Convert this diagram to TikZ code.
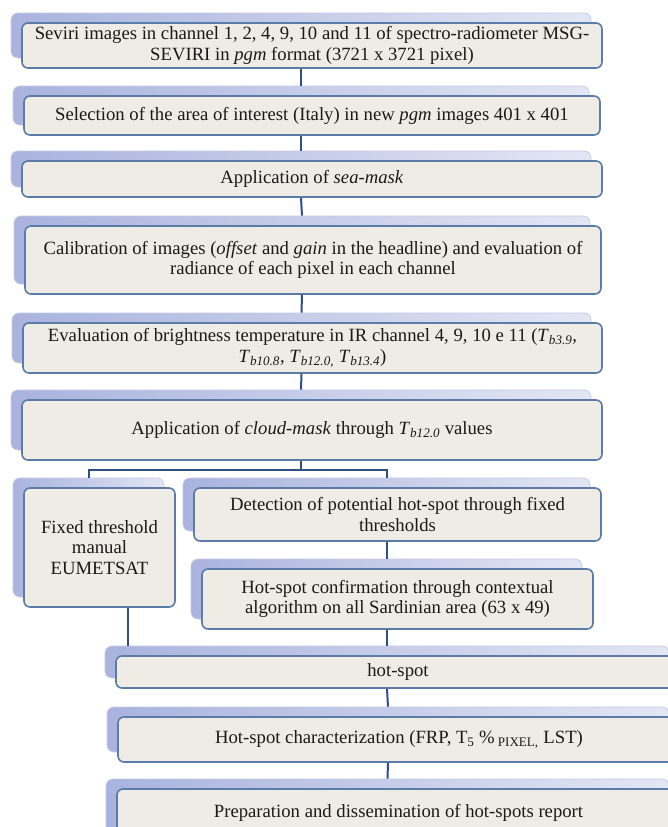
\documentclass[tikz,border=0pt]{standalone}
\usepackage{fontspec}
\setmainfont{Liberation Serif}
\definecolor{frontfill}{HTML}{EEECE4}
\definecolor{frontdraw}{HTML}{5B7BA8}
\definecolor{backL}{HTML}{A9B3DE}
\definecolor{backR}{HTML}{E3E6F4}
\definecolor{backdraw}{HTML}{C5CBE3}
\definecolor{linkcol}{HTML}{2E4F7F}
\definecolor{txt}{HTML}{1A1A1A}
\tikzset{
 backbox/.style={rectangle, rounded corners=7pt, left color=backL, right color=backR, draw=backdraw, line width=0.8pt, inner sep=0pt},
 frontbox/.style={rectangle, rounded corners=6pt, fill=frontfill, draw=frontdraw, line width=1.6pt, inner sep=0pt, align=center, text=txt, font=\fontsize{18.7}{20.5}\selectfont},
 link/.style={draw=linkcol, line width=2pt},
}
\newcommand\boxpair[6]{%
  \node[backbox, minimum width={#4-#2}, minimum height={#5-#3}] (b#1) at ({(#2+#4)/2-11},{-(#3+#5)/2+10}) {};
  \node[frontbox, minimum width={#4-#2}, minimum height={#5-#3}] (f#1) at ({(#2+#4)/2},{-(#3+#5)/2}) {#6};
}
\newcommand\Tb[1]{\textit{T}\textsubscript{\textit{#1}}}
\begin{document}
\begin{tikzpicture}[x=1pt,y=1pt]
\useasboundingbox (0,0) rectangle (668,-827);
\fill[white] (0,0) rectangle (668,-827);
\clip (0,0) rectangle (668,-827);
\boxpair{1}{22}{23}{602}{68}{Seviri images in channel 1, 2, 4, 9, 10 and 11 of spectro-radiometer MSG-\\SEVIRI in \textit{pgm} format (3721 x 3721 pixel)}
\boxpair{2}{24}{96}{600}{135}{Selection of the area of interest (Italy) in new \textit{pgm} images 401 x 401}
\boxpair{3}{22}{161}{602}{197}{Application of \textit{sea-mask}}
\boxpair{4}{25}{226}{601}{294}{Calibration of images (\textit{offset} and \textit{gain} in the headline) and evaluation of\\radiance of each pixel in each channel}
\boxpair{5}{23}{323}{602}{373}{Evaluation of brightness temperature in IR channel 4, 9, 10 e 11 (\Tb{b3.9},\\\Tb{b10.8}, \Tb{b12.0,} \Tb{b13.4})}
\boxpair{6}{22}{400}{602}{460}{Application of \textit{cloud-mask} through \Tb{b12.0} values}
\boxpair{7}{24}{488}{175}{607}{Fixed threshold\\manual\\EUMETSAT}
\boxpair{8}{194}{488}{601}{541}{Detection of potential hot-spot through fixed\\thresholds}
\boxpair{9}{202}{569}{593}{629}{Hot-spot confirmation through contextual\\algorithm on all Sardinian area (63 x 49)}
\boxpair{10}{116}{656}{680}{688}{hot-spot}
\boxpair{11}{118}{717}{680}{762}{Hot-spot characterization (FRP, T\textsubscript{5} \%\,\textsubscript{PIXEL,} LST)}
\boxpair{12}{117}{789}{680}{850}{\raisebox{17pt}{Preparation and dissemination of hot-spots report}}
% connectors
\draw[link] (b1.center |- f1.south) -- (b2.north);
\draw[link] (b2.center |- f2.south) -- (b3.north);
\draw[link] (b3.center |- f3.south) -- (b4.north);
\draw[link] (b4.center |- f4.south) -- (b5.north);
\draw[link] (b5.center |- f5.south) -- (b6.north);
\coordinate (j) at ([yshift=-9pt]b6.center |- f6.south);
\draw[link] (b6.center |- f6.south) -- (j);
\draw[link] (b7.north) |- (j) -| (b8.north);
\draw[link] (b8.center |- f8.south) -- (b9.north);
\draw[link] (b9.center |- f9.south) -- (b9.center |- b10.north);
\draw[link] ([xshift=28pt]f7.south) -- ([xshift=28pt]f7.south |- b10.north);
\draw[link] (b10.center |- f10.south) -- (b11.north);
\draw[link] (b11.center |- f11.south) -- (b12.north);
\end{tikzpicture}
\end{document}
